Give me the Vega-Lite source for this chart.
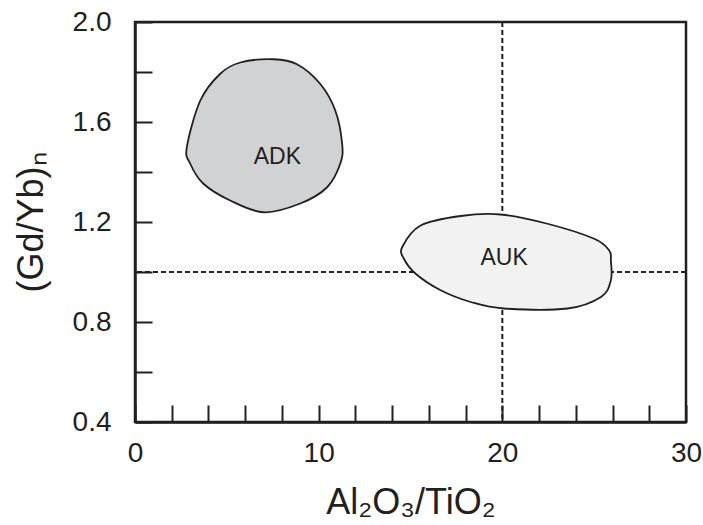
{
  "$schema": "https://vega.github.io/schema/vega-lite/v6.json",
  "width": 551,
  "height": 400,
  "autosize": {"type": "none"},
  "padding": {"left": 135, "top": 22, "right": 17, "bottom": 103},
  "background": "white",
  "config": {
    "font": "Liberation Sans",
    "view": {"stroke": "#231f20", "strokeWidth": 2.5},
    "axis": {
      "grid": false,
      "domainColor": "#231f20",
      "domainWidth": 2.5,
      "tickColor": "#231f20",
      "tickWidth": 2,
      "tickSize": -17,
      "tickCount": 100,
      "labelColor": "#231f20",
      "titleColor": "#231f20",
      "labelFont": "Liberation Sans",
      "titleFont": "Liberation Sans",
      "titleFontWeight": "normal",
      "labelFontSize": 28,
      "titleFontSize": 36,
      "labelOverlap": false,
      "labelFlush": false
    }
  },
  "datasets": {
    "regions": [
      {"region": "ADK", "i": 1, "x": 7.55, "y": 1.851},
      {"region": "ADK", "i": 2, "x": 8.82, "y": 1.831},
      {"region": "ADK", "i": 3, "x": 10.09, "y": 1.752},
      {"region": "ADK", "i": 4, "x": 10.91, "y": 1.645},
      {"region": "ADK", "i": 5, "x": 11.28, "y": 1.512},
      {"region": "ADK", "i": 6, "x": 11.18, "y": 1.434},
      {"region": "ADK", "i": 7, "x": 10.46, "y": 1.339},
      {"region": "ADK", "i": 8, "x": 9.0, "y": 1.274},
      {"region": "ADK", "i": 9, "x": 7.0, "y": 1.239},
      {"region": "ADK", "i": 10, "x": 5.18, "y": 1.286},
      {"region": "ADK", "i": 11, "x": 3.71, "y": 1.354},
      {"region": "ADK", "i": 12, "x": 3.0, "y": 1.434},
      {"region": "ADK", "i": 13, "x": 2.82, "y": 1.499},
      {"region": "ADK", "i": 14, "x": 3.55, "y": 1.685},
      {"region": "ADK", "i": 15, "x": 4.64, "y": 1.793},
      {"region": "ADK", "i": 16, "x": 5.73, "y": 1.838},
      {"region": "AUK", "i": 1, "x": 19.91, "y": 1.23},
      {"region": "AUK", "i": 2, "x": 22.46, "y": 1.193},
      {"region": "AUK", "i": 3, "x": 25.0, "y": 1.133},
      {"region": "AUK", "i": 4, "x": 25.82, "y": 1.086},
      {"region": "AUK", "i": 5, "x": 25.91, "y": 1.046},
      {"region": "AUK", "i": 6, "x": 25.91, "y": 0.967},
      {"region": "AUK", "i": 7, "x": 25.37, "y": 0.9},
      {"region": "AUK", "i": 8, "x": 23.55, "y": 0.854},
      {"region": "AUK", "i": 9, "x": 20.09, "y": 0.854},
      {"region": "AUK", "i": 10, "x": 18.28, "y": 0.88},
      {"region": "AUK", "i": 11, "x": 16.64, "y": 0.927},
      {"region": "AUK", "i": 12, "x": 15.28, "y": 0.993},
      {"region": "AUK", "i": 13, "x": 14.64, "y": 1.053},
      {"region": "AUK", "i": 14, "x": 14.55, "y": 1.1},
      {"region": "AUK", "i": 15, "x": 15.55, "y": 1.186},
      {"region": "AUK", "i": 16, "x": 17.73, "y": 1.224}
    ],
    "labels": [
      {"label": "ADK", "x": 7.75, "y": 1.462},
      {"label": "AUK", "x": 20.1, "y": 1.055}
    ],
    "vlines": [{"x": 20}],
    "hlines": [{"y": 1.0}]
  },
  "layer": [
    {
      "data": {"name": "vlines"},
      "mark": {"type": "rule", "strokeDash": [5, 3], "strokeWidth": 2, "color": "#231f20"},
      "encoding": {
        "x": {"field": "x", "type": "quantitative", "scale": {"domain": [0, 30], "nice": false, "zero": false},
          "axis": {"values": [0, 2, 4, 6, 8, 10, 12, 14, 16, 18, 20, 22, 24, 26, 28, 30],
            "labelExpr": "datum.value % 10 === 0 ? format(datum.value, 'd') : ''",
            "labelPadding": 34, "title": "Al₂O₃/TiO₂", "titlePadding": 18}}
      }
    },
    {
      "data": {"name": "hlines"},
      "mark": {"type": "rule", "strokeDash": [5, 3], "strokeWidth": 2, "color": "#231f20"},
      "encoding": {
        "y": {"field": "y", "type": "quantitative", "scale": {"domain": [0.4, 2.0], "nice": false, "zero": false},
          "axis": {"values": [0.4, 0.6, 0.8, 1.0, 1.2, 1.4, 1.6, 1.8, 2.0],
            "labelExpr": "(round(datum.value * 10) % 4 === 0) ? format(datum.value, '.1f') : ''",
            "labelPadding": 41, "title": "(Gd/Yb)ₙ", "titlePadding": 22}}
      }
    },
    {
      "data": {"name": "regions"},
      "transform": [{"filter": "datum.region === 'ADK'"}],
      "mark": {"type": "line", "interpolate": "cardinal-closed", "fill": "#d1d2d4", "stroke": "#231f20", "strokeWidth": 1.8},
      "encoding": {
        "x": {"field": "x", "type": "quantitative"},
        "y": {"field": "y", "type": "quantitative"},
        "order": {"field": "i", "type": "quantitative"}
      }
    },
    {
      "data": {"name": "regions"},
      "transform": [{"filter": "datum.region === 'AUK'"}],
      "mark": {"type": "line", "interpolate": "cardinal-closed", "fill": "#f2f2f2", "stroke": "#231f20", "strokeWidth": 1.8},
      "encoding": {
        "x": {"field": "x", "type": "quantitative"},
        "y": {"field": "y", "type": "quantitative"},
        "order": {"field": "i", "type": "quantitative"}
      }
    },
    {
      "data": {"name": "labels"},
      "mark": {"type": "text", "fontSize": 23, "color": "#231f20", "font": "Liberation Sans"},
      "encoding": {
        "x": {"field": "x", "type": "quantitative"},
        "y": {"field": "y", "type": "quantitative"},
        "text": {"field": "label"}
      }
    }
  ]
}
